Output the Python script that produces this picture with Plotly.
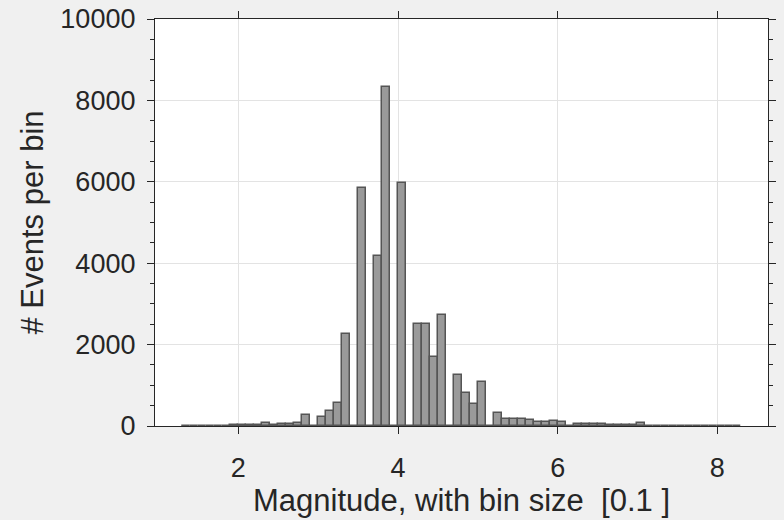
import numpy as np
import plotly.graph_objects as go

# Bin centers (bin size 0.1) and counts
bin_centers = [round(1.35 + 0.1 * i, 2) for i in range(70)]
counts = [
    8, 10, 8, 12, 10, 12, 15, 15, 20, 25,          # 1.35 - 2.25
    70, 15, 50, 55, 75, 260, 0, 230, 360, 560,     # 2.35 - 3.25
    2270, 0, 5850, 0, 4180, 8330, 0, 5980, 0, 2500,  # 3.35 - 4.25
    2500, 1700, 2720, 0, 1250, 800, 550, 1080, 0, 310,  # 4.35 - 5.25
    170, 180, 165, 155, 100, 100, 120, 100, 5, 60,   # 5.35 - 6.25
    60, 60, 55, 15, 15, 15, 20, 75, 10, 10,          # 6.35 - 7.25
    12, 10, 8, 10, 8, 10, 8, 8, 6, 8,                # 7.35 - 8.25
]
x_ticks = [2, 4, 6, 8]
y_ticks = [0, 2000, 4000, 6000, 8000, 10000]
x_title = "Magnitude, with bin size  [0.1 ]"
y_title = "# Events per bin"

font_family = "Liberation Sans, Arial, sans-serif"
text_color = "#262626"

fig = go.Figure()
fig.add_trace(go.Bar(
    x=bin_centers, y=counts, width=0.1,
    marker=dict(color="#9a9a9a", line=dict(color="#555555", width=1.5)),
    showlegend=False,
))

axis_common = dict(
    showline=True, linecolor=text_color, linewidth=1.3, mirror="ticks",
    ticks="outside", ticklen=7, tickwidth=1.3, tickcolor=text_color,
    showgrid=True, gridcolor="#e3e3e3", gridwidth=1, zeroline=False,
    automargin=False,
    tickfont=dict(family=font_family, size=27, color=text_color),
)

fig.update_xaxes(
    range=[0.956, 8.635], tickvals=x_ticks, ticktext=[str(v) for v in x_ticks],
    ticklabelstandoff=10, **axis_common,
)
fig.update_yaxes(
    range=[0, 10000], tickvals=y_ticks, ticktext=[str(v) for v in y_ticks],
    minor=dict(dtick=500, ticks="outside", ticklen=4, tickwidth=1.3,
               tickcolor=text_color, showgrid=False),
    ticklabelstandoff=6, **axis_common,
)

fig.add_annotation(text=x_title, xref="paper", yref="paper", x=0.5, y=0,
                   xanchor="center", yanchor="middle", yshift=-74, showarrow=False,
                   font=dict(family=font_family, size=31, color=text_color))
fig.add_annotation(text=y_title, xref="paper", yref="paper", x=0, y=0.5,
                   xanchor="center", yanchor="middle", xshift=-123, textangle=-90,
                   showarrow=False,
                   font=dict(family=font_family, size=31, color=text_color))

fig.update_layout(
    width=784, height=520,
    margin=dict(l=155, r=16, t=19, b=94),
    paper_bgcolor="#f0f0f0", plot_bgcolor="white",
    bargap=0,
)

fig.write_html("out.html")
